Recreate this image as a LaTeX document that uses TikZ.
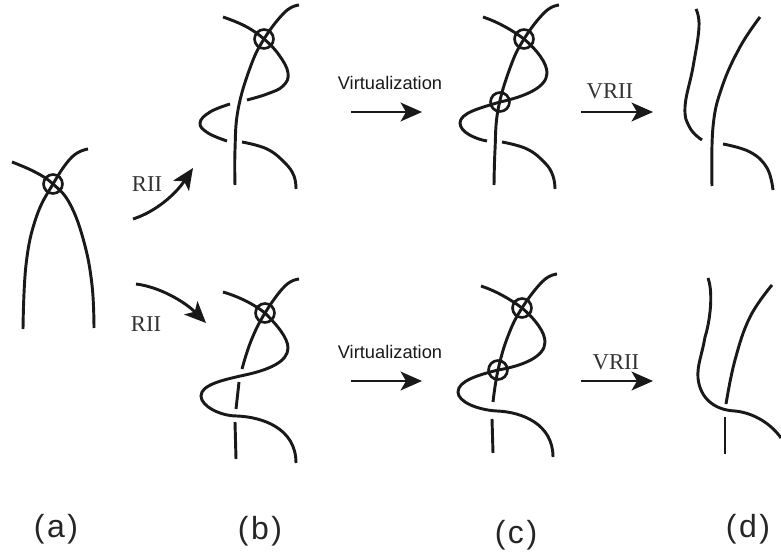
\documentclass[tikz,border=0pt]{standalone}
\usepackage{fontspec}
\setmainfont{Liberation Serif}
\newfontfamily\arialf{Liberation Sans}
\newfontfamily\panelf[LetterSpace=8]{Liberation Sans}
\usetikzlibrary{arrows.meta}
\tikzset{
  x=0.75pt,y=-0.75pt,
  strand/.style={line width=2.2pt,line cap=butt,black!90,smooth,tension=0.7},
  virt/.style={circle,draw=black!90,line width=2pt,minimum size=14.2pt,inner sep=0pt},
  move/.style={line width=2.2pt,black!90,-{Stealth[length=16pt,width=14pt,inset=4pt]}},
  serifl/.style={font=\fontsize{17pt}{19pt}\selectfont,text=black!80,inner sep=0pt},
  sansl/.style={font=\arialf\fontsize{13.7pt}{16pt}\selectfont,text=black!90,inner sep=0pt},
  panel/.style={font=\panelf\fontsize{24pt}{28pt}\selectfont,text=black!85,inner sep=0pt},
}
\begin{document}
\begin{tikzpicture}
\useasboundingbox (0,0) rectangle (781,552);
% (a)
\draw[strand] plot coordinates {(12,162) (35,172) (53,184) (70,204) (84,242) (92,285) (94,328)};
\draw[strand] plot coordinates {(88,149) (72,157) (53,184) (36,218) (26,265) (23,329)};
\node[virt] (va) at (53,184) {};
% (b) top
\draw[strand] plot coordinates {(223,17) (245,26) (264,39) (279,55) (288,73) (283,86) (267,94) (247,100)};
\draw[strand] plot coordinates {(230,104) (210,112) (200,123) (208,133) (227,141)};
\draw[strand] plot coordinates {(242,142) (267,149) (285,163) (294,176) (296,189)};
\draw[strand] plot coordinates {(299,5) (285,12) (264,39) (250,68) (238,110) (235,150) (235,185)};
\node[virt] (vb1) at (264,39) {};
% (b) bottom
\draw[strand] (223,292) .. controls (240,297) and (255,305) .. (265,313)
  .. controls (277,325) and (288,338) .. (288,348)
  .. controls (288,362) and (268,370) .. (245,375)
  .. controls (222,380) and (201,385) .. (201,396)
  .. controls (201,406) and (220,416) .. (237,416)
  .. controls (262,417) and (296,428) .. (296,463);
\draw[strand] plot coordinates {(299,279) (285,286) (265,313) (251,341) (242,369)};
\draw[strand] plot coordinates {(239,382) (236,409)};
\draw[strand] plot coordinates {(235,422) (236,459)};
\node[virt] (vb2) at (265,313) {};
% (c) top
\draw[strand] (483,17) .. controls (498,22) and (512,30) .. (524,39)
  .. controls (537,50) and (547,63) .. (547,73)
  .. controls (547,88) and (523,97) .. (500,102)
  .. controls (480,108) and (460,113) .. (460,123)
  .. controls (460,132) and (475,139) .. (487,141);
\draw[strand] plot coordinates {(502,142) (527,149) (545,163) (553,176) (555,189)};
\draw[strand] plot coordinates {(559,5) (545,12) (524,39) (510,68) (498,110) (495,150) (494,185)};
\node[virt] (vc1) at (524,39) {};
\node[virt] (vc2) at (500,102) {};
% (c) bottom
\draw[strand] (481,286) .. controls (496,291) and (510,299) .. (522,308)
  .. controls (535,319) and (545,332) .. (545,342)
  .. controls (545,357) and (522,366) .. (498,370)
  .. controls (478,375) and (458,381) .. (458,392)
  .. controls (458,402) and (478,410) .. (497,411)
  .. controls (522,412) and (553,424) .. (553,457);
\draw[strand] plot coordinates {(557,274) (543,281) (522,308) (508,336) (498,370) (493,402)};
\draw[strand] plot coordinates {(492,419) (493,453)};
\node[virt] (vc3) at (522,308) {};
\node[virt] (vc4) at (498,370) {};
% (d) top
\draw[strand] plot coordinates {(696,9) (699,27) (693,67) (685,107) (690,128) (702,140)};
\draw[strand] plot coordinates {(760,17) (740,47) (722,87) (713,127) (712,186)};
\draw[strand] plot coordinates {(723,144) (750,152) (767,168) (773,190)};
% (d) bottom
\draw[strand] (708,278) .. controls (714,295) and (709,325) .. (705,337)
  .. controls (702,355) and (697,365) .. (698,378)
  .. controls (700,398) and (714,410) .. (735,411)
  .. controls (755,413) and (772,425) .. (781,438);
\draw[strand] plot coordinates {(772,285) (750,317) (735,360) (726,404)};
\draw[strand] plot coordinates {(725,417) (725,454)};
% move arrows
\coordinate (r1s) at (133,219); \coordinate (r1e) at (193,168);
\coordinate (r2s) at (136,284); \coordinate (r2e) at (206,323);
\coordinate (v1s) at (351,112); \coordinate (v1e) at (422,112);
\coordinate (v2s) at (351,381); \coordinate (v2e) at (422,381);
\coordinate (w1s) at (581,112); \coordinate (w1e) at (653,112);
\coordinate (w2s) at (581,381); \coordinate (w2e) at (653,381);
\draw[move] (r1s) .. controls (155,212) and (175,195) .. (r1e);
\draw[move] (r2s) .. controls (160,287) and (185,302) .. (r2e);
\draw[move] (v1s) -- (v1e);
\draw[move] (v2s) -- (v2e);
\draw[move] (w1s) -- (w1e);
\draw[move] (w2s) -- (w2e);
% labels
\node[serifl] (l1) at (147,184) {RII};
\node[serifl] (l2) at (146,324) {RII};
\node[sansl] (l3) at (390,83) {Virtualization};
\node[sansl] (l4) at (390,352) {Virtualization};
\node[serifl] (l5) at (610,91) {VRII};
\node[serifl] (l6) at (616,362) {VRII};
\node[panel] (pa) at (56,529) {(a)};
\node[panel] (pb) at (260,531) {(b)};
\node[panel] (pc) at (516,535) {(c)};
\node[panel] (pd) at (748,529) {(d)};
\end{tikzpicture}
\end{document}
